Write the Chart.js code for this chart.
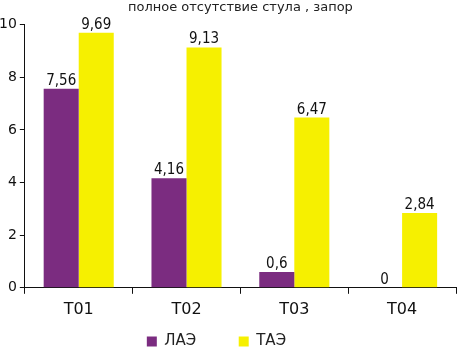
<!DOCTYPE html>
<html>
<head>
<meta charset="utf-8">
<script src="https://cdn.jsdelivr.net/npm/chart.js@4"></script>
<style>
  html, body { margin: 0; padding: 0; background: #fff; }
  #wrap { width: 457px; height: 351px; }
</style>
</head>
<body>
<div id="wrap"><canvas id="chart"></canvas></div>
<script>
// data
const categories = ["T01", "T02", "T03", "T04"];
const laeValues = [7.56, 4.16, 0.6, 0];
const taeValues = [9.69, 9.13, 6.47, 2.84];
const yTicks = [0, 2, 4, 6, 8, 10];
const titleText = "полное отсутствие стула , запор";

const fontFamily = "'Liberation Sans Narrow', 'DejaVu Sans', 'Liberation Sans', sans-serif";
const narrow = "condensed";

// value labels on top of each bar, comma as decimal mark
const barLabels = {
  id: "barLabels",
  afterDatasetsDraw(chart) {
    const ctx = chart.ctx;
    ctx.save();
    ctx.font = narrow + " 15px " + fontFamily;
    ctx.fillStyle = "#111";
    ctx.textAlign = "center";
    ctx.textBaseline = "alphabetic";
    chart.data.datasets.forEach((ds, i) => {
      chart.getDatasetMeta(i).data.forEach((bar, j) => {
        const txt = String(ds.data[j]).replace(".", ",");
        ctx.fillText(txt, bar.x, bar.y - 4);
      });
    });
    ctx.restore();
  },
};

// trailing spaces spread the two legend entries like the original
const legendPad = ["       ", "    "];

new Chart(document.getElementById("chart"), {
  type: "bar",
  data: {
    labels: categories,
    datasets: [
      {
        label: "ЛАЭ",
        data: laeValues,
        backgroundColor: "#7b2c80",
        categoryPercentage: 0.65,
        barPercentage: 1,
      },
      {
        label: "ТАЭ",
        data: taeValues,
        backgroundColor: "#f6f000",
        categoryPercentage: 0.65,
        barPercentage: 1,
      },
    ],
  },
  options: {
    responsive: true,
    maintainAspectRatio: false,
    animation: false,
    layout: { padding: { left: -4, right: 1, top: 0, bottom: -8 } },
    plugins: {
      title: {
        display: true,
        text: titleText,
        fullSize: false,
        color: "#222",
        font: { family: fontFamily, style: narrow, size: 13, weight: "normal" },
        padding: { top: 0, bottom: 9 },
      },
      legend: {
        position: "bottom",
        labels: {
          color: "#222",
          font: { family: fontFamily, style: narrow, size: 15 },
          boxWidth: 10,
          boxHeight: 10,
          padding: 9,
          generateLabels(chart) {
            const items = Chart.defaults.plugins.legend.labels.generateLabels(chart);
            items.forEach((it, i) => { it.text = it.text + legendPad[i]; });
            return items;
          },
        },
      },
      tooltip: { enabled: false },
    },
    scales: {
      x: {
        grid: {
          display: true,
          drawOnChartArea: false,
          drawTicks: true,
          tickLength: 6,
          color: "#111",
        },
        border: { display: true, color: "#111", width: 1 },
        ticks: {
          color: "#111",
          font: { family: fontFamily, style: narrow, size: 16 },
          padding: 6,
        },
      },
      y: {
        min: 0,
        max: 10,
        afterBuildTicks(axis) {
          axis.ticks = yTicks.map((v) => ({ value: v }));
        },
        grid: {
          display: true,
          drawOnChartArea: false,
          drawTicks: true,
          tickLength: 5,
          color: "#111",
        },
        border: { display: true, color: "#111", width: 1 },
        ticks: {
          color: "#111",
          font: { family: fontFamily, style: narrow, size: 14 },
          padding: 3,
        },
      },
    },
  },
  plugins: [barLabels],
});
</script>
</body>
</html>
